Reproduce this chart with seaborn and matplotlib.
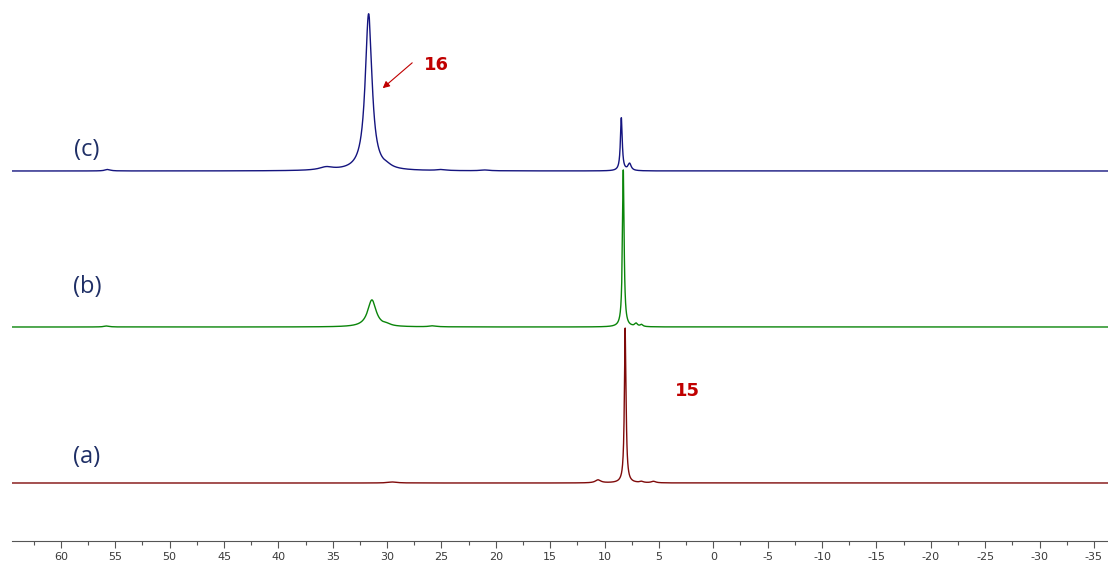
#!/usr/bin/env python3

# Stacked NMR spectra (a), (b), (c) built from peak lists

import numpy as np
import pandas as pd
import seaborn as sns
import matplotlib.pyplot as plt
from matplotlib.ticker import MultipleLocator

# peak lists: position (ppm), height (arb.), width (FWHM, ppm)
c_pos = [31.7, 8.46, 7.7, 35.6, 30.0, 55.7, 25.0, 21.0]
c_h = [157, 53, 7, 3, 2, 1.5, 1, 0.8]
c_w = [0.75, 0.2, 0.35, 1.5, 1.0, 0.6, 1.0, 1.0]

b_pos = [31.4, 8.28, 7.1, 6.6, 30.0, 55.8, 25.8]
b_h = [27, 157, 3, 2, 1.5, 1, 1]
b_w = [0.95, 0.18, 0.3, 0.3, 0.8, 0.6, 0.8]

a_pos = [8.1, 10.6, 5.5, 29.5, 6.6]
a_h = [155, 3, 1.5, 1, 1.2]
a_w = [0.18, 0.6, 0.5, 1.0, 0.4]

labels = ['(a)', '(b)', '(c)']
offsets = [58, 214, 370]
colors = ['#7f0a0a', '#0a850a', '#14147f']

ppm = np.linspace(-36.4, 64.6, 12000)


def spectrum(pos, h, w):
    y = np.zeros_like(ppm)
    for p, hh, ww in zip(pos, h, w):
        g = ww / 2
        y += hh * g**2 / ((ppm - p)**2 + g**2)
    return y


frames = []
for lab, (pos, h, w), off in zip(labels, [(a_pos, a_h, a_w), (b_pos, b_h, b_w), (c_pos, c_h, c_w)], offsets):
    frames.append(pd.DataFrame({'ppm': ppm, 'y': spectrum(pos, h, w) + off, 'trace': lab}))
df = pd.concat(frames)

sns.set_theme(style="white")
plt.rcParams['font.family'] = ['DejaVu Sans']

fig = plt.figure(figsize=(11.08, 5.65), dpi=100)
ax = fig.add_axes([12/1108, 24/565, 1096/1108, 541/565])

for lab, col in zip(labels, colors):
    sns.lineplot(data=df[df.trace == lab], x='ppm', y='y', color=col, lw=1.0,
                 estimator=None, sort=False, ax=ax)

ax.set_xlim(64.5, -36.3)
ax.set_ylim(0, 541)
sns.despine(ax=ax, left=True, top=True, right=True)
ax.spines['bottom'].set_color('#555555')
ax.spines['bottom'].set_linewidth(0.8)
ax.set_yticks([])
ax.set_xlabel('')
ax.set_ylabel('')
ax.xaxis.set_major_locator(MultipleLocator(5))
ax.xaxis.set_minor_locator(MultipleLocator(2.5))
ax.tick_params(axis='x', which='major', direction='out', length=5, width=0.8,
               color='#555555', labelsize=8, labelcolor='#3a3a3a', pad=3, bottom=True)
ax.tick_params(axis='x', which='minor', direction='out', length=3, width=0.8,
               color='#555555', bottom=True)
ax.set_xticklabels([f'{int(t)}' for t in ax.get_xticks()])

lab_font = dict(family=['Open Sans', 'DejaVu Sans'], fontsize=17, color='#1f2f66')
ax.text(57.6, 541 - 150, '(c)', ha='center', va='center', **lab_font)
ax.text(57.6, 541 - 287, '(b)', ha='center', va='center', **lab_font)
ax.text(57.6, 541 - 457, '(a)', ha='center', va='center', **lab_font)

red = '#c00000'
ax.text(25.5, 541 - 65, '16', ha='center', va='center', fontsize=13, fontweight='bold', color=red)
ax.text(2.4, 541 - 391, '15', ha='center', va='center', fontsize=13, fontweight='bold', color=red)
ax.annotate('', xy=(30.6, 541 - 90), xytext=(27.5, 541 - 61),
            arrowprops=dict(arrowstyle='-|>', color=red, lw=0.8, mutation_scale=10))

fig.savefig('out.png', dpi=100)
